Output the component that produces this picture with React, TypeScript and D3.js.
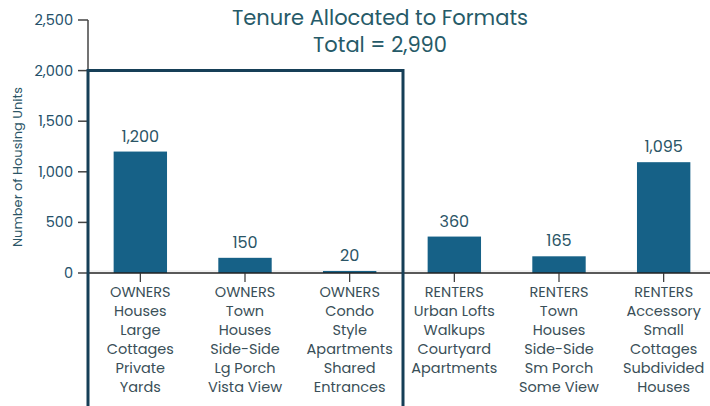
import React from "react";
import * as d3 from "d3";

const categories = ["o1", "o2", "o3", "r1", "r2", "r3"];
const values = [1200, 150, 20, 360, 165, 1095];
const valueLabels = ["1,200", "150", "20", "360", "165", "1,095"];
const categoryLines = [
  ["OWNERS", "Houses", "Large", "Cottages", "Private", "Yards"],
  ["OWNERS", "Town", "Houses", "Side-Side", "Lg Porch", "Vista View"],
  ["OWNERS", "Condo", "Style", "Apartments", "Shared", "Entrances"],
  ["RENTERS", "Urban Lofts", "Walkups", "Courtyard", "Apartments"],
  ["RENTERS", "Town", "Houses", "Side-Side", "Sm Porch", "Some View"],
  ["RENTERS", "Accessory", "Small", "Cottages", "Subdivided", "Houses"],
];
const yTicks = [0, 500, 1000, 1500, 2000, 2500];
const titleLines = ["Tenure Allocated to Formats", "Total = 2,990"];
const yLabel = "Number of Housing Units";
const ownersBoxTop = 2000;

const FONT = "Poppins, 'Open Sans', sans-serif";

export default function App() {
  const W = 710, H = 406;
  const x = d3.scaleBand<string>().domain(categories).range([88, 716]).paddingInner(0.49).paddingOuter(0.245);
  const y = d3.scaleLinear().domain([0, 2500]).range([273, 20]);
  const step = x.step();
  const boxRight = (x("o3") as number) + x.bandwidth() + (step - x.bandwidth()) / 2 + 1;
  return (
    <svg width={W} height={H} style={{ position: "absolute", left: 0, top: 0, background: "#fff" }} fontFamily={FONT}>
      <line x1={88} x2={W} y1={y(0) - 2} y2={y(0) - 2} stroke="#e6e6e6" strokeWidth={1} />
      {values.map((v, i) => (
        <rect key={i} x={x(categories[i])} y={y(v)} width={x.bandwidth()} height={y(0) - y(v)} fill="#166187" />
      ))}
      {values.map((v, i) => (
        <text key={i} x={(x(categories[i]) as number) + x.bandwidth() / 2} y={y(v) - 10} textAnchor="middle" fontSize={16} fill="#2b5566">
          {valueLabels[i]}
        </text>
      ))}
      <line x1={88} x2={88} y1={y(2500)} y2={y(0)} stroke="#444" strokeWidth={1.5} />
      {yTicks.map((t) => (
        <g key={t}>
          <line x1={78} x2={88} y1={y(t)} y2={y(t)} stroke="#444" strokeWidth={1.5} />
          <text x={73} y={y(t)} dy="0.35em" textAnchor="end" fontSize={14.5} fill="#24506a">
            {d3.format(",")(t)}
          </text>
        </g>
      ))}
      <line x1={88} x2={W} y1={y(0)} y2={y(0)} stroke="#222" strokeWidth={1.5} />
      {categories.map((c, i) => {
        const cx = (x(c) as number) + x.bandwidth() / 2;
        return (
          <g key={c}>
            <line x1={cx} x2={cx} y1={y(0)} y2={y(0) + 9} stroke="#333" strokeWidth={1.2} />
            {categoryLines[i].map((ln, j) => (
              <text key={j} x={cx} y={292 + j * 19} dy="0.35em" textAnchor="middle" fontSize={14.5} fill="#3a4f58">
                {ln}
              </text>
            ))}
          </g>
        );
      })}
      <path
        d={`M${88},${H + 5} L${88},${y(ownersBoxTop)} L${boxRight},${y(ownersBoxTop)} L${boxRight},${H + 5}`}
        fill="none"
        stroke="#163f57"
        strokeWidth={3}
      />
      <text transform={`translate(17,${167}) rotate(-90)`} textAnchor="middle" dy="0.35em" fontSize={13} fill="#2b5566">
        {yLabel}
      </text>
      {titleLines.map((t, i) => (
        <text key={i} x={380} y={18 + i * 27} dy="0.35em" textAnchor="middle" fontSize={21} fill="#265a68">
          {t}
        </text>
      ))}
    </svg>
  );
}
